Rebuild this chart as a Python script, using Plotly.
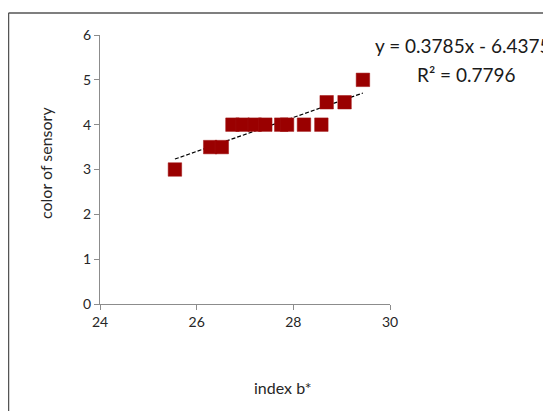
import plotly.graph_objects as go

index_b = [25.55, 26.28, 26.52, 26.74, 26.95, 27.2, 27.42, 27.75, 27.87, 28.22, 28.58, 28.69, 29.06, 29.44]
color_sensory = [3, 3.5, 3.5, 4, 4, 4, 4, 4, 4, 4, 4, 4.5, 4.5, 5]
slope = 0.3785
intercept = -6.4375
r2 = 0.7796
x_ticks = [24, 26, 28, 30]
y_ticks = [0, 1, 2, 3, 4, 5, 6]

W, H = 551, 411
OFF = 8  # page body margin
L, R, T, B = 100 - OFF, 390 - OFF, 35 - OFF, 304 - OFF

def px(xp):
    return (xp - OFF - L) / (R - L)

def py(yp):
    return (B - (yp - OFF)) / (B - T)

font = "Lato, 'Open Sans', sans-serif"

fig = go.Figure()
xmin, xmax = min(index_b), max(index_b)
fig.add_trace(go.Scatter(
    x=[xmin, xmax], y=[slope * xmin + intercept, slope * xmax + intercept],
    mode="lines", line=dict(color="black", width=1.2, dash="4px,2px"),
    hoverinfo="skip", showlegend=False))
fig.add_trace(go.Scatter(
    x=index_b, y=color_sensory, mode="markers",
    marker=dict(symbol="square", size=13.5, color="#9a0000",
                line=dict(color="#a01010", width=0.5)),
    showlegend=False))

axis_common = dict(showgrid=False, zeroline=False, showline=True,
                   linecolor="#8c8c8c", linewidth=1, ticks="outside",
                   ticklen=5, tickcolor="#8c8c8c",
                   tickfont=dict(family=font, size=14, color="#262626"))
fig.update_xaxes(range=[24, 30], tickvals=x_ticks, **axis_common)
fig.update_yaxes(range=[0, 6], tickvals=y_ticks, **axis_common)

ann = [
    dict(text="index b*", x=px(282), y=py(387), xref="paper", yref="paper",
         xanchor="center", yanchor="middle",
         showarrow=False, font=dict(family=font, size=16, color="#262626")),
    dict(text="color of sensory", x=px(45), y=py(163), xref="paper", yref="paper",
         xanchor="center", yanchor="middle",
         textangle=-90, showarrow=False, font=dict(family=font, size=16, color="#262626")),
    dict(text=f"y = {slope}x - {abs(intercept)}", x=px(373), y=py(45), xref="paper", yref="paper",
         xanchor="left", yanchor="middle",
         showarrow=False, font=dict(family=font, size=19, color="#1a1a1a")),
    dict(text=f"R² = {r2}", x=px(466), y=py(74), xref="paper", yref="paper",
         xanchor="center", yanchor="middle",
         showarrow=False, font=dict(family=font, size=19, color="#1a1a1a")),
]

shapes = [
    dict(type="line", xref="paper", yref="paper", x0=px(8.5), x1=px(8.5), y0=py(13), y1=py(430),
         line=dict(color="#555555", width=1.5)),
    dict(type="line", xref="paper", yref="paper", x0=px(8.5), x1=px(570), y0=py(13), y1=py(13),
         line=dict(color="#555555", width=1.5)),
]

fig.update_layout(
    width=W, height=H,
    margin=dict(l=L, r=W - R, t=T, b=H - B),
    paper_bgcolor="white", plot_bgcolor="white",
    annotations=ann, shapes=shapes,
)
fig.write_html("out.html")
